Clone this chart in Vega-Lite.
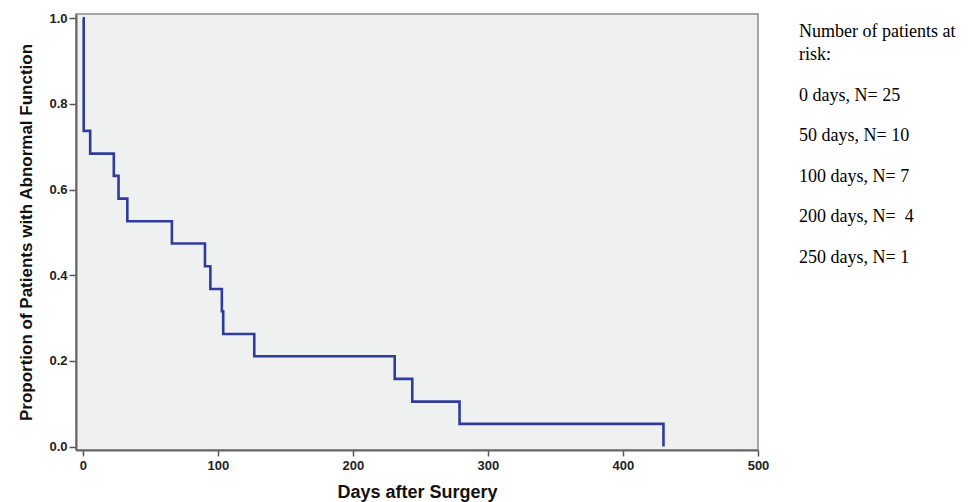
{
  "$schema": "https://vega.github.io/schema/vega-lite/v6.json",
  "background": "white",
  "padding": {"left": 17, "top": 11, "right": 5, "bottom": 2},
  "bounds": "flush",
  "spacing": 36,
  "datasets": {
    "km": [
      {"day": 0, "proportion": 1.0},
      {"day": 0.7, "proportion": 0.737},
      {"day": 5.5, "proportion": 0.684},
      {"day": 23, "proportion": 0.632},
      {"day": 26.5, "proportion": 0.579},
      {"day": 33, "proportion": 0.526},
      {"day": 66, "proportion": 0.474},
      {"day": 90.5, "proportion": 0.421},
      {"day": 94.5, "proportion": 0.368},
      {"day": 103, "proportion": 0.316},
      {"day": 104, "proportion": 0.263},
      {"day": 127, "proportion": 0.211},
      {"day": 231, "proportion": 0.158},
      {"day": 244, "proportion": 0.105},
      {"day": 279, "proportion": 0.053},
      {"day": 430, "proportion": 0.0}
    ],
    "risk": [
      {"row": 0, "part": "head", "label": "Number of patients at"},
      {"row": 0, "part": "body", "label": "risk:"},
      {"row": 1, "part": "body", "label": "\u00a00 days, N= 25"},
      {"row": 2, "part": "body", "label": "50 days, N= 10"},
      {"row": 3, "part": "body", "label": "100 days, N= 7"},
      {"row": 4, "part": "body", "label": "200 days, N= \u00a04"},
      {"row": 5, "part": "body", "label": "250 days, N= 1"}
    ]
  },
  "hconcat": [
    {
      "width": 682,
      "height": 436,
      "view": {"fill": "#eff0f0", "stroke": "#8a8a8a", "strokeWidth": 1.5},
      "data": {"name": "km"},
      "mark": {"type": "line", "interpolate": "step-after", "color": "#2f3c9c", "strokeWidth": 2.6},
      "encoding": {
        "x": {
          "field": "day",
          "type": "quantitative",
          "scale": {"domain": [-5, 500], "nice": false, "zero": false},
          "axis": {
            "values": [0, 100, 200, 300, 400, 500],
            "format": "d",
            "title": "Days after Surgery",
            "grid": false,
            "labelFlush": false,
            "domainColor": "#666666",
            "domainWidth": 2,
            "tickColor": "#555555",
            "tickSize": 6,
            "tickWidth": 1.5,
            "labelFont": "Liberation Sans",
            "labelFontWeight": "bold",
            "labelFontSize": 13,
            "labelColor": "#222222",
            "labelPadding": 3,
            "titleFont": "Liberation Sans",
            "titleFontWeight": "bold",
            "titleFontSize": 18,
            "titleColor": "#111111",
            "titlePadding": 11
          }
        },
        "y": {
          "field": "proportion",
          "type": "quantitative",
          "scale": {"domain": [-0.008, 1.01], "nice": false, "zero": false},
          "axis": {
            "values": [0, 0.2, 0.4, 0.6, 0.8, 1.0],
            "format": ".1f",
            "title": "Proportion of Patients with Abnormal Function",
            "grid": false,
            "labelFlush": false,
            "domainColor": "#666666",
            "domainWidth": 2,
            "tickColor": "#555555",
            "tickSize": 7,
            "tickWidth": 1.5,
            "labelFont": "Liberation Sans",
            "labelFontWeight": "bold",
            "labelFontSize": 13,
            "labelColor": "#222222",
            "labelPadding": 2,
            "titleFont": "Liberation Sans",
            "titleFontWeight": "bold",
            "titleFontSize": 17,
            "titleColor": "#111111",
            "titlePadding": 13
          }
        }
      }
    },
    {
      "width": 10,
      "height": 436,
      "view": {"stroke": null, "fill": null},
      "data": {"name": "risk"},
      "encoding": {
        "y": {
          "field": "row",
          "type": "quantitative",
          "scale": {"domain": [-1.133, 9.606], "reverse": true, "nice": false, "zero": false},
          "axis": null
        },
        "text": {"field": "label"}
      },
      "layer": [
        {
          "transform": [{"filter": "datum.part === 'body'"}],
          "mark": {
            "type": "text",
            "align": "left",
            "baseline": "alphabetic",
            "font": "Liberation Serif",
            "fontSize": 18,
            "color": "#000000"
          }
        },
        {
          "transform": [{"filter": "datum.part === 'head'"}],
          "mark": {
            "type": "text",
            "align": "left",
            "baseline": "alphabetic",
            "dy": -23,
            "font": "Liberation Serif",
            "fontSize": 18,
            "color": "#000000"
          }
        }
      ]
    }
  ]
}
